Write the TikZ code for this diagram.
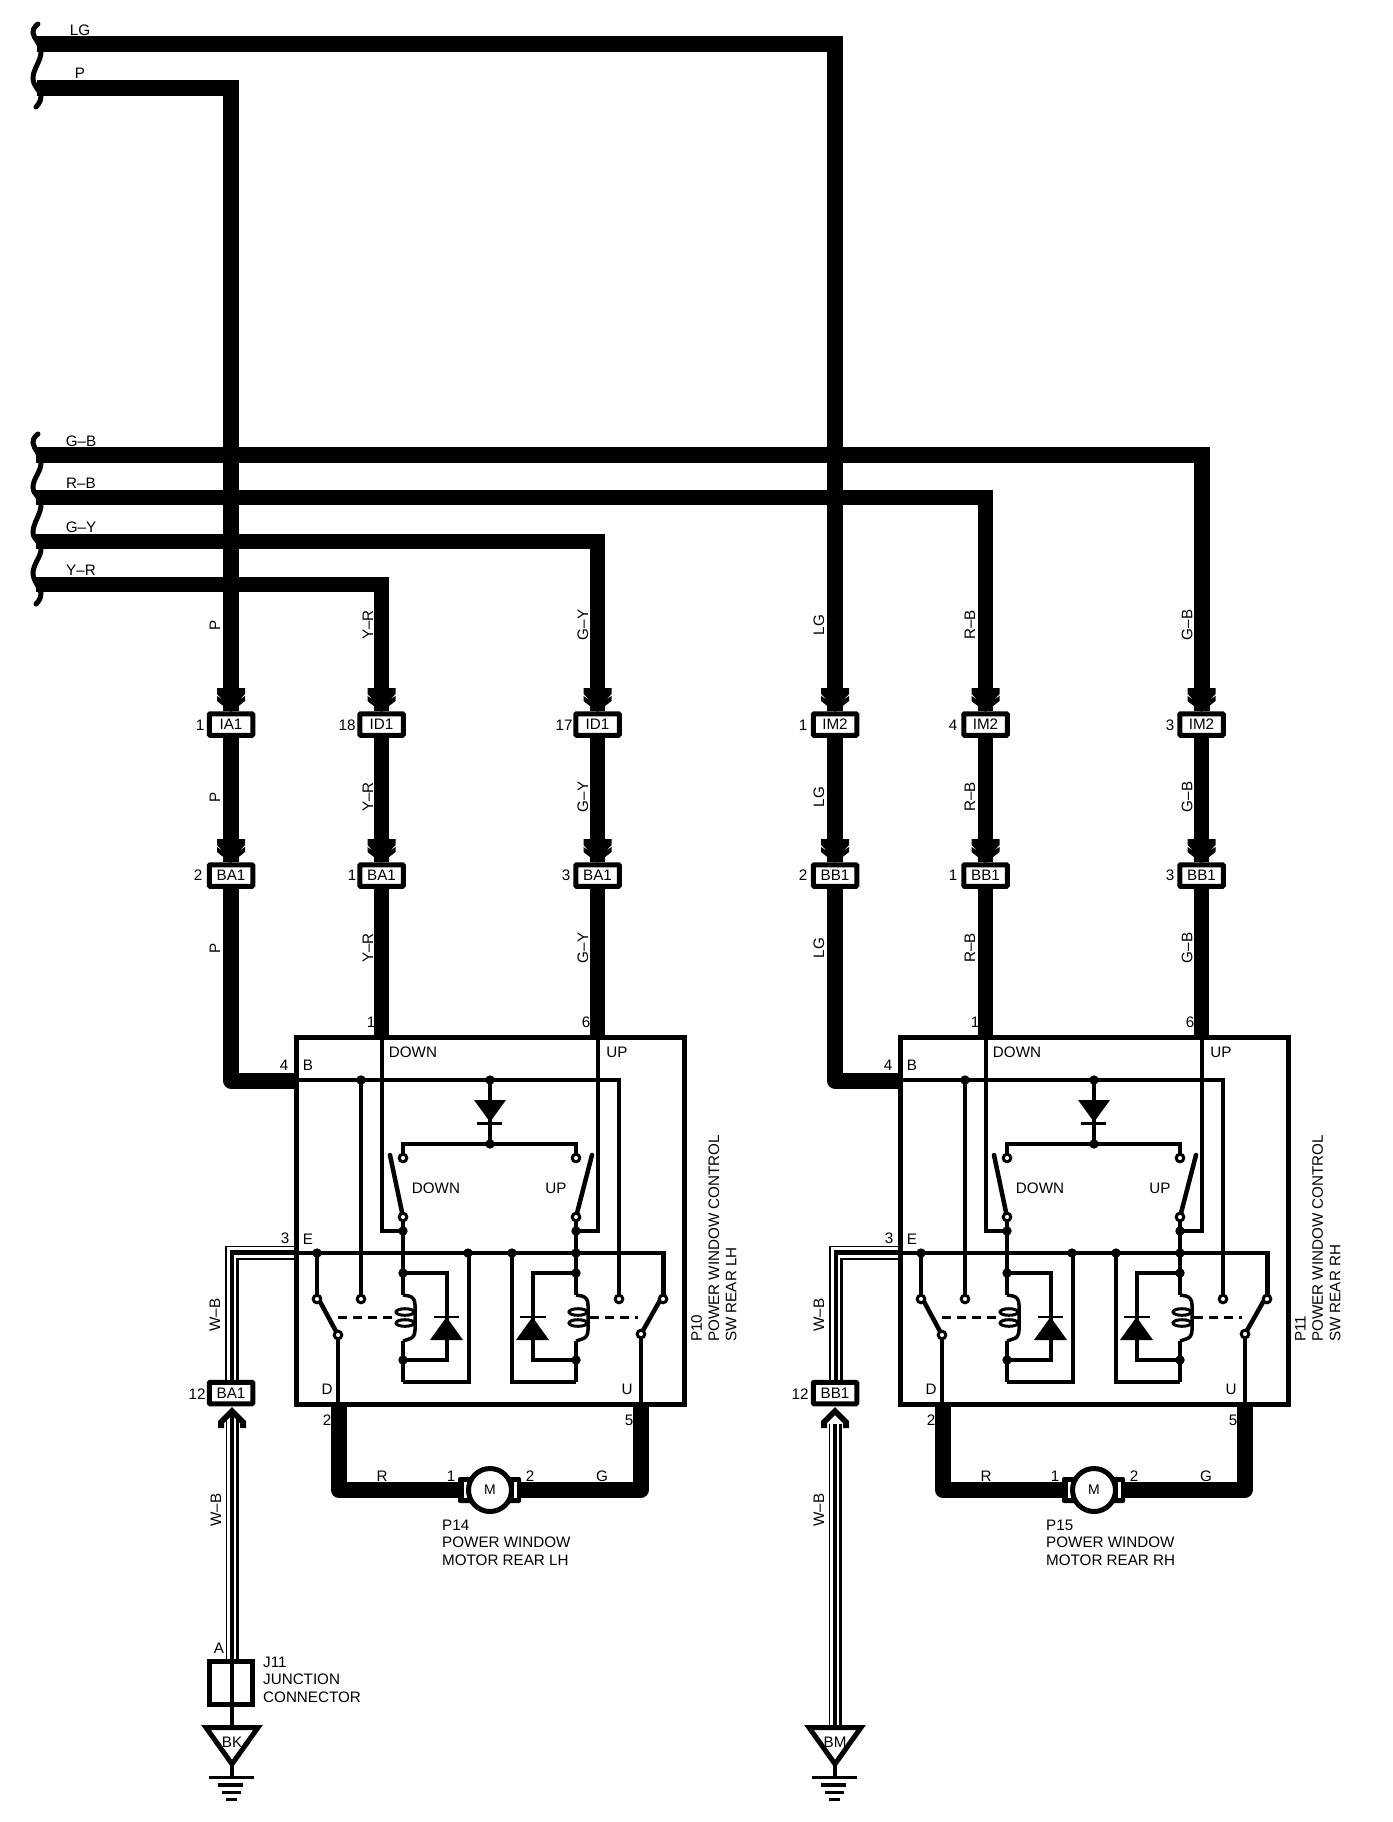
\documentclass[tikz,border=0pt]{standalone}
\usepackage{fontspec}
\setmainfont{Liberation Sans}
\newcommand\lf{\fontsize{15.2}{17.3}\selectfont}
\pgfdeclarelayer{under}
\pgfsetlayers{under,main}
\tikzset{
  hw/.style={line width=16pt,line cap=butt,line join=miter},
  hwr/.style={line width=16pt,line cap=butt,line join=round},
  mw/.style={line width=15pt,line cap=butt,line join=miter},
  iw/.style={line width=4pt,line join=miter},
  arm/.style={line width=4.5pt,line cap=round},
  conn/.style={draw,line width=5pt,fill=white,minimum width=43.5pt,minimum height=21.5pt,inner sep=0pt,font=\lf,rounded corners=1pt},
  lab/.style={inner sep=0pt,font=\lf},
  vlab/.style={inner sep=0pt,font=\lf,rotate=90},
  block/.style={inner sep=0pt,font=\lf,align=left},
  squig/.style={line width=5pt,line cap=round},
  opn/.style={line width=3pt,fill=white},
}
\newcommand\chevdn[2]{%
  \fill (#1-14,#2-23)--(#1-14,#2-17)--(#1-8,#2-11)--(#1-14,#2-15)--(#1-14,#2-10)--(#1,#2+1)
       --(#1+14,#2-10)--(#1+14,#2-15)--(#1+8,#2-11)--(#1+14,#2-17)--(#1+14,#2-23)--cycle;}
\newcommand\chevup[2]{%
  \fill (#1,#2+1)--(#1+14,#2+15)--(#1+14,#2+22)--(#1+8,#2+22)--(#1+8,#2+17)--(#1,#2+9)
       --(#1-8,#2+17)--(#1-8,#2+22)--(#1-14,#2+22)--(#1-14,#2+15)--cycle;}
\newcommand\SwitchUnit[6]{%
\begin{scope}[shift={(#1,0)},name prefix=#2]
  % housing
  \draw[line width=5pt] (296,1037) rectangle (684,1404);
  % B rail
  \draw[line width=4.5pt] (296,1080)--(619,1080)--(619,1299);
  \draw[iw] (361,1080)--(361,1299);
  \draw[iw] (490,1080)--(490,1144);
  \fill (474,1100)--(506,1100)--(490,1122)--cycle;
  \draw[line width=3pt] (477,1123)--(502,1123);
  \draw[iw] (403,1158)--(403,1144)--(576,1144)--(576,1158);
  % DOWN and UP wires
  \draw[iw] (382,1037)--(382,1231)--(403,1231);
  \draw[iw] (598,1037)--(598,1231)--(576,1231);
  % contact arms
  \draw[arm] (390,1155)--(403,1217);
  \draw[arm] (592,1155)--(576,1217);
  % E rail
  \draw[iw] (296,1253)--(663,1253);
  \draw[line width=5pt] (663,1251)--(663,1299);
  \draw[iw] (317,1253)--(317,1299);
  % relay coils
  \foreach \cx in {403,576}{
    \draw[iw] (\cx,1217)--(\cx,1295);
    \draw[line width=3.5pt] (\cx,1295)--(\cx+6,1296) .. controls (\cx+10,1297) and (\cx+12,1300) .. (\cx+12,1305)
      --(\cx+12,1330) .. controls (\cx+12,1335) and (\cx+10,1338) .. (\cx+6,1339)--(\cx,1341);
    \draw[line width=3pt] (\cx+2,1312) ellipse (9 and 3.3);
    \draw[line width=3pt] (\cx+2,1323) ellipse (9 and 3.3);
    \draw[iw] (\cx,1341)--(\cx,1382);
  }
  % flyback diodes
  \draw[iw] (403,1273)--(447,1273)--(447,1360)--(403,1360);
  \fill (430,1340)--(463,1340)--(446.5,1317)--cycle;
  \draw[line width=2.5pt] (434,1317)--(459,1317);
  \draw[iw] (576,1273)--(533,1273)--(533,1360)--(576,1360);
  \fill (516,1340)--(549,1340)--(532.5,1317)--cycle;
  \draw[line width=2.5pt] (520,1317)--(546,1317);
  % return loops
  \draw[iw] (403,1382)--(469,1382)--(469,1253);
  \draw[iw] (576,1382)--(512,1382)--(512,1253);
  % output contacts
  \draw[arm] (317,1296)--(338,1335);
  \draw[arm] (663,1295)--(641,1334);
  \draw[iw] (338,1335)--(338,1404);
  \draw[iw] (641,1334)--(641,1404);
  \draw[line width=3pt,dash pattern=on 9pt off 6pt] (338,1317)--(395,1317);
  \draw[line width=3pt,dash pattern=on 9pt off 6pt] (590,1317)--(638,1317);
  % junction dots
  \foreach \p in {(361,1080),(490,1080),(490,1144),(403,1231),(576,1231),(317,1253),(468,1253),(512,1253),(576,1253),(403,1273),(576,1273),(403,1360),(576,1360)}
    \fill \p circle (4.7);
  % open contacts
  \foreach \p in {(403,1158),(576,1158),(403,1217),(576,1217),(361,1299),(619,1299),(317,1299),(663,1299),(338,1335),(641,1334)}
    \draw[opn] \p circle (3.8);
  % texts
  \node[lab] (tdn) at (413,1052) {DOWN};
  \node[lab] (tup) at (617,1052) {UP};
  \node[lab] (sdn) at (436,1188) {DOWN};
  \node[lab] (sup) at (556,1188) {UP};
  \node[lab] (pb) at (308,1065) {B};
  \node[lab] (pe) at (308,1239) {E};
  \node[lab] (pd) at (327,1389) {D};
  \node[lab] (pu) at (627,1389) {U};
  \node[lab] (n4) at (284,1065) {4};
  \node[lab] (n3) at (285,1238) {3};
  \node[lab] (n1) at (371,1022) {1};
  \node[lab] (n6) at (586,1022) {6};
  \node[lab] (n2) at (327,1420) {2};
  \node[lab] (n5) at (629,1420) {5};
  \node[block,rotate=90,anchor=north west] (title) at (691,1342) {#3\\POWER WINDOW CONTROL\\SW REAR #4};
  % motor
  \fill[rounded corners=2pt] (458,1477) rectangle (521,1503);
  \fill[white] (464,1482) rectangle (466.5,1498);
  \fill[white] (514,1482) rectangle (516.5,1498);
  \node[draw,circle,line width=5pt,fill=white,minimum size=43pt,inner sep=0pt,font=\fontsize{14}{14}\selectfont] (motor) at (490,1490) {M};
  \draw[hwr] (339,1404)--(339,1490)--(458,1490);
  \draw[hwr] (521,1490)--(640.5,1490)--(640.5,1404);
  \node[lab] (mr) at (382,1476) {R};
  \node[lab] (m1) at (451,1476) {1};
  \node[lab] (m2) at (530,1476) {2};
  \node[lab] (mg) at (602,1476) {G};
  \node[block,anchor=north west] (mt) at (442,1520) {#5\\POWER WINDOW\\MOTOR REAR #6};
\end{scope}}
\newcommand\shield[3]{%
  \draw[line width=1.3pt] (#1-5.5,#2)--(#1-5.5,#3);
  \draw[line width=4.5pt] (#1,#2)--(#1,#3);
  \draw[line width=2.2pt] (#1+5.5,#2)--(#1+5.5,#3);}
\newcommand\topshield[1]{%
  \draw[line width=1.3pt] (#1-6,1380)--(#1-6,1246.5)--(#1+61.5,1246.5);
  \draw[line width=4.5pt] (#1,1380)--(#1,1252.5)--(#1+61.5,1252.5);
  \draw[line width=2.2pt] (#1+5.5,1380)--(#1+5.5,1259)--(#1+61.5,1259);}
\newcommand\groundsym[2]{%
  \draw[line width=5pt,line join=miter,fill=white] (#1-26,1727.5)--(#1+26,1727.5)--(#1,1764)--cycle;
  \node[lab] at (#1,1742) {#2};
  \draw[iw] (#1,1764)--(#1,1777);
  \draw[line width=3pt] (#1-23,1777.5)--(#1+22,1777.5);
  \draw[line width=4pt] (#1-14,1785)--(#1+11,1785);
  \draw[line width=3pt] (#1-10,1792)--(#1+9,1792);
  \draw[line width=3pt] (#1-6,1799)--(#1+5,1799);}
\begin{document}
\begin{tikzpicture}[x=1pt,y=-1pt]
\useasboundingbox (0,0) rectangle (1392,1822);
\begin{pgfonlayer}{under}
\fill[white] (0,0) rectangle (1392,1822);
\end{pgfonlayer}

% connector nodes
\node[conn] (ia) at (231,724.5) {IA1};
\node[conn] (ida) at (381.5,724.5) {ID1};
\node[conn] (idb) at (597.5,724.5) {ID1};
\node[conn] (ima) at (835,724.5) {IM2};
\node[conn] (imb) at (985.5,724.5) {IM2};
\node[conn] (imc) at (1201.5,724.5) {IM2};
\node[conn] (baa) at (231,875.5) {BA1};
\node[conn] (bab) at (381.5,875.5) {BA1};
\node[conn] (bac) at (597.5,875.5) {BA1};
\node[conn] (bba) at (835,875.5) {BB1};
\node[conn] (bbb) at (985.5,875.5) {BB1};
\node[conn] (bbc) at (1201.5,875.5) {BB1};
\node[conn] (bad) at (231,1393) {BA1};
\node[conn] (bbd) at (835,1393) {BB1};

% free ends of the wires
\coordinate (sLG) at (37,44.5);
\coordinate (sP) at (37,88.5);
\coordinate (sGB) at (36,455);
\coordinate (sRB) at (36,497.5);
\coordinate (sGY) at (36,541.5);
\coordinate (sYR) at (36,584);
\coordinate (hB) at (296,1080.5);
\coordinate (hBr) at (900,1080.5);

\begin{pgfonlayer}{under}
% harness wires
\draw[hw] (sLG)--(835,44.5)--(ima.north);
\draw[hw] (sP)--(231,88.5)--(ia.north);
\draw[hw] (sGB)--(1201.5,455)--(imc.north);
\draw[mw] (sRB)--(985.5,497.5)--(imb.north);
\draw[mw] (sGY)--(597.5,541.5)--(idb.north);
\draw[mw] (sYR)--(381.5,584)--(ida.north);

% connectors between the two rows and to the switches
\draw[hw] (ia.south)--(baa.north);
\draw[hwr] (baa.south)--(231,1080.5)--(hB);
\draw[mw] (ida.south)--(bab.north);
\draw[mw] (bab.south)--(381.5,1037);
\draw[mw] (idb.south)--(bac.north);
\draw[mw] (bac.south)--(597.5,1037);
\draw[hw] (ima.south)--(bba.north);
\draw[hwr] (bba.south)--(835,1080.5)--(hBr);
\draw[mw] (imb.south)--(bbb.north);
\draw[mw] (bbb.south)--(985.5,1037);
\draw[mw] (imc.south)--(bbc.north);
\draw[mw] (bbc.south)--(1201.5,1037);

% chevrons
\foreach \xc in {231,381.5,597.5,835,985.5,1201.5}{
  \chevdn{\xc}{711}
  \chevdn{\xc}{862}
}
% ground wires, upper runs
\topshield{232}
\topshield{836}
\end{pgfonlayer}

% break marks
\draw[squig] plot[smooth,tension=.7] coordinates {(38,24)(33,33)(41,52)(33,78)(41,96)(36,107)};
\draw[squig] plot[smooth,tension=.7] coordinates {(38,434)(33,443)(41,463)(33,487)(41,505)(33,532)(41,549)(33,573)(41,593)(36,604)};

% wire names
\node[lab] (wLG) at (80,30) {LG};
\node[lab] (wP) at (80,73) {P};
\node[lab] (wGB) at (81,441) {G–B};
\node[lab] (wRB) at (81,483) {R–B};
\node[lab] (wGY) at (81,527) {G–Y};
\node[lab] (wYR) at (81,570) {Y–R};
\foreach \yy in {625,797,948}{
  \node[vlab] at (215,\yy) {P};
  \node[vlab] at (368,\yy) {Y–R};
  \node[vlab] at (583,\yy) {G–Y};
  \node[vlab] at (819,\yy) {LG};
  \node[vlab] at (970,\yy) {R–B};
  \node[vlab] at (1187,\yy) {G–B};
}
% pin numbers
\node[lab] (pa) at (200,725) {1};
\node[lab] (pb) at (347,725) {18};
\node[lab] (pc) at (564,725) {17};
\node[lab] (pd) at (803,725) {1};
\node[lab] (pe) at (953,725) {4};
\node[lab] (pf) at (1170,725) {3};
\node[lab] (pg) at (198,875) {2};
\node[lab] (ph) at (352,875) {1};
\node[lab] (pi) at (566,875) {3};
\node[lab] (pj) at (803,875) {2};
\node[lab] (pk) at (953,875) {1};
\node[lab] (pl) at (1170,875) {3};
\node[lab] (pm) at (197,1394) {12};
\node[lab] (pn) at (800,1394) {12};

% switch assemblies
\SwitchUnit{0}{L}{P10}{LH}{P14}{LH}
\SwitchUnit{604}{R}{P11}{RH}{P15}{RH}

% ground wires, left
\shield{232}{1415}{1660}
\chevup{232}{1406}
\node[draw,line width=5pt,minimum width=43pt,minimum height=43pt,inner sep=0pt] (jbox) at (231,1683) {};
\draw[iw] (232,1659)--(232,1727);
\node[lab] (ja) at (219,1648) {A};
\node[block,anchor=north west] (jt) at (263,1657) {J11\\JUNCTION\\CONNECTOR};
\groundsym{232}{BK}
\node[vlab] (wb1) at (215,1315) {W–B};
\node[vlab] (wb2) at (216,1510) {W–B};
% ground wires, right
\shield{835}{1424}{1727}
\chevup{835}{1406}
\groundsym{835}{BM}
\node[vlab] (wb3) at (819,1315) {W–B};
\node[vlab] (wb4) at (819,1510) {W–B};
\end{tikzpicture}
\end{document}
